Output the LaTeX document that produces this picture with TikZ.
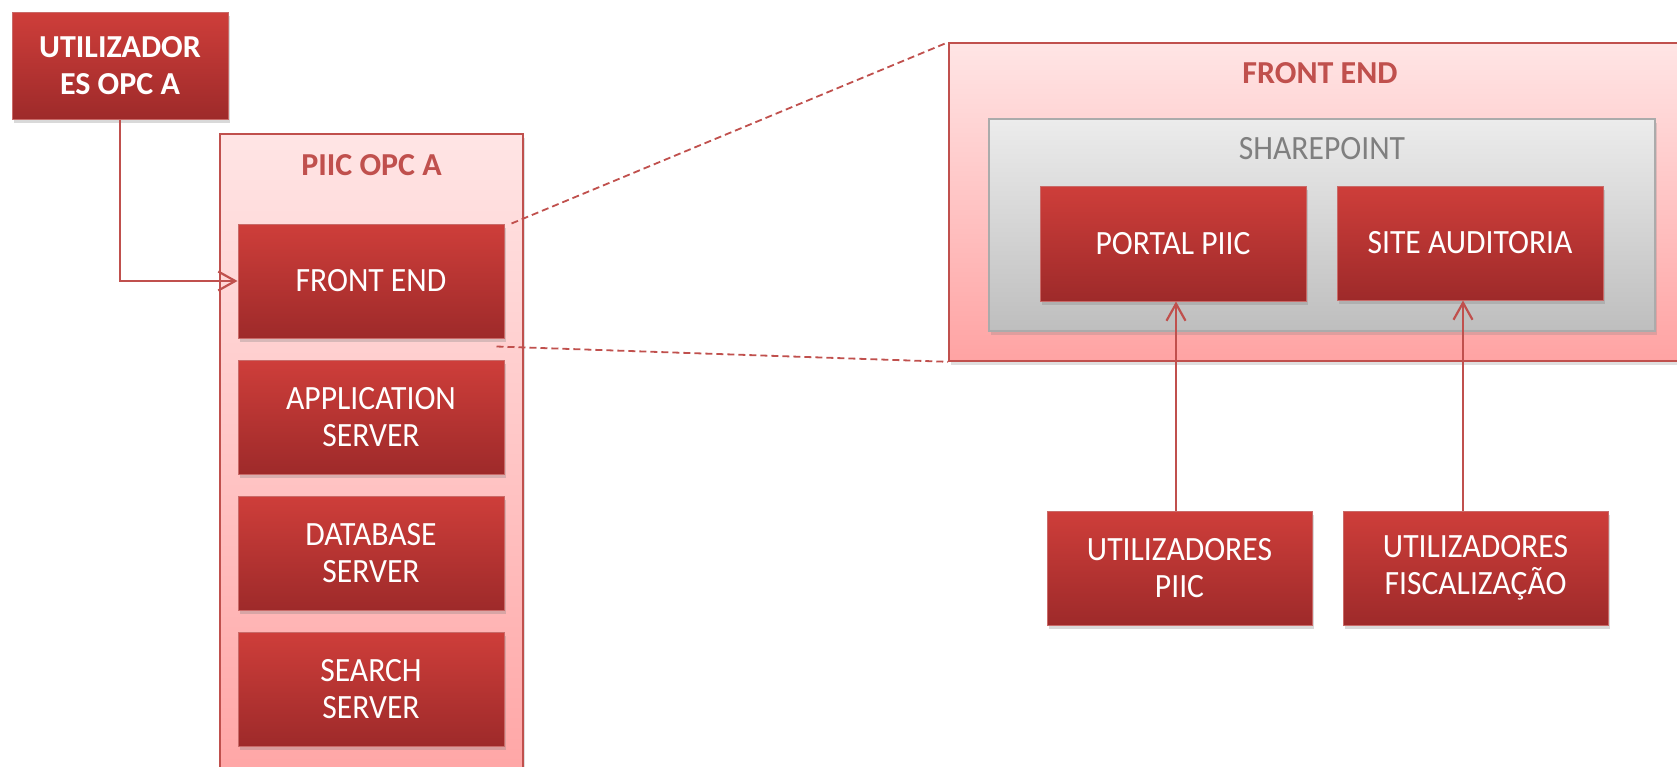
\documentclass[tikz,border=0pt]{standalone}
\usepackage{fontspec}
\setmainfont{Carlito}
\newfontfamily\narrowfont[FakeStretch=0.93]{Carlito}
\usetikzlibrary{arrows.meta,shadows}

\definecolor{boxtop}{RGB}{206,62,58}
\definecolor{boxbot}{RGB}{158,42,42}
\definecolor{edgered}{RGB}{192,80,77}
\definecolor{pinktop}{RGB}{255,229,229}
\definecolor{pinkbot}{RGB}{255,163,163}
\definecolor{greytop}{RGB}{236,236,236}
\definecolor{greybot}{RGB}{190,190,190}
\definecolor{greytext}{RGB}{127,127,127}

\tikzset{
	redbox/.style={draw=edgered!85!white, line width=1pt, top color=boxtop,
		bottom color=boxbot, text=white, align=center, inner sep=0pt,
		minimum width=266pt, minimum height=114pt,
		font=\narrowfont\fontsize{34}{37}\selectfont,
		drop shadow={opacity=0.3, shadow xshift=2pt, shadow yshift=-4pt}},
	pinkbox/.style={draw=edgered, line width=1.6pt, top color=pinktop,
		bottom color=pinkbot, inner sep=0pt,
		drop shadow={opacity=0.25, shadow xshift=2pt, shadow yshift=-4pt}},
	greybox/.style={draw=greybot!90!black, line width=1.4pt, top color=greytop,
		bottom color=greybot, inner sep=0pt,
		drop shadow={opacity=0.25, shadow xshift=2pt, shadow yshift=-4pt}},
	boxtitle/.style={text=edgered, font=\fontsize{32}{37}\selectfont\bfseries},
	conn/.style={draw=edgered, line width=2.2pt,
		-{Straight Barb[length=17pt,width=19pt,line width=2.2pt]}},
	zoomline/.style={draw=edgered, line width=1.8pt, dash pattern=on 7pt off 4pt}
}

\begin{document}
\begin{tikzpicture}[x=1pt,y=-1pt]
	\useasboundingbox (0,0) rectangle (1677,766);
	\clip (0,0) rectangle (1677,766);
	
	% left column
	\node[pinkbox, minimum width=303pt, minimum height=670pt] (piic) at (371.5,469) {};
	\node[boxtitle] (piictitle) at (371.5,165) {PIIC OPC A};
	\node[redbox] (fe) at (371,281) {FRONT END};
	\node[redbox] (app) at (371,417) {APPLICATION\\SERVER};
	\node[redbox] (db) at (371,553) {DATABASE\\SERVER};
	\node[redbox] (search) at (371,689) {SEARCH\\SERVER};
	
	\node[redbox, minimum width=216pt, minimum height=107pt,
	font=\fontsize{32}{37}\selectfont\bfseries] (util) at (120,65.5)
	{UTILIZADOR\\ES OPC A};
	
	% front end detail
	\node[pinkbox, minimum width=742pt, minimum height=318pt] (front) at (1320,202) {};
	\node[boxtitle] (fronttitle) at (1320,73) {FRONT END};
	\node[greybox, minimum width=666pt, minimum height=212pt] (sp) at (1322,225) {};
	\node[text=greytext, font=\narrowfont\fontsize{34}{37}\selectfont] (sptitle) at (1322,149) {SHAREPOINT};
	\node[redbox, minimum height=115pt] (portal) at (1173,243.5) {PORTAL PIIC};
	\node[redbox] (site) at (1470,243) {SITE AUDITORIA};
	
	\node[redbox, minimum width=265pt] (upiic) at (1179.5,568) {UTILIZADORES\\PIIC};
	\node[redbox, minimum width=265pt] (ufisc) at (1475.5,568) {UTILIZADORES\\FISCALIZAÇÃO};
	
	% connectors
	\draw[conn] (util.south) |- (fe.west);
	\draw[conn] ([xshift=-3.5pt]upiic.north) -- ([xshift=-3.5pt]upiic.north |- portal.south);
	\draw[conn] ([xshift=-12.5pt]ufisc.north) -- ([xshift=-12.5pt]ufisc.north |- site.south);
	
	\coordinate (zt) at ([xshift=7pt]fe.north east);
	\coordinate (zb) at ([xshift=-8pt,yshift=-8pt]fe.south east);
	\draw[zoomline] (zt) -- (front.north west);
	\draw[zoomline] (zb) -- (front.south west);
\end{tikzpicture}
\end{document}
